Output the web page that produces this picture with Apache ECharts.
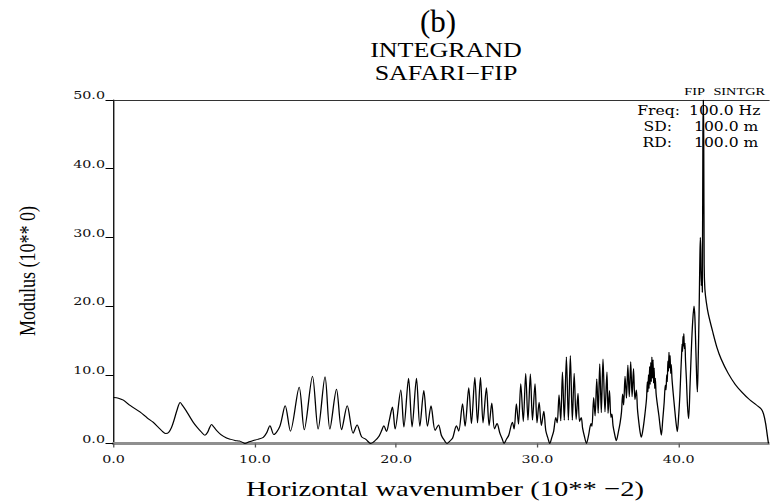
<!DOCTYPE html>
<html>
<head>
<meta charset="utf-8">
<script src="https://cdn.jsdelivr.net/npm/echarts@6/dist/echarts.min.js"></script>
<style>
  html, body { margin: 0; padding: 0; background: #fff; overflow: hidden; }
  #wrap { width: 770px; height: 501px; overflow: hidden; }
  /* the plot is laid out narrow and stretched sideways, like the wide plotter lettering */
  #chart { width: 592.3px; height: 501px; transform: scaleX(1.3); transform-origin: 0 0; }
</style>
</head>
<body>
<div id="wrap"><div id="chart"></div></div>
<script>
// Horizontal wavenumber (10** -2)
const wavenumber = [
  0, 0.35, 0.7, 1.2, 1.87, 2.4, 2.8, 3.2, 3.5, 3.7, 3.9, 4.1, 4.3, 4.5, 4.72, 4.9, 5.13, 5.4, 5.64, 5.9,
  6.2, 6.47, 6.65, 6.8, 6.94, 7.1, 7.3, 7.6, 8.0, 8.3, 8.6, 8.9, 9.1, 9.3,
  9.6, 9.9, 10.2, 10.6, 10.85, 11.07, 11.35, 11.77, 12.15, 12.52, 13.14, 13.5, 14.08, 14.48, 14.97, 15.31,
  15.78, 16.14, 16.54, 16.96, 17.24, 17.55, 17.86, 18.2,
  18.5, 18.8, 19.0, 19.13, 19.32, 19.5, 19.74, 19.93, 20.33, 20.55, 20.88, 21.13, 21.44, 21.68, 21.96, 22.22,
  22.47, 22.76, 23.0, 23.2, 23.4, 23.6,
  23.8, 24.0, 24.27, 24.43, 24.7, 24.88, 25.14, 25.33, 25.57, 25.76, 25.97, 26.15, 26.39, 26.58, 26.77, 26.96,
  27.14, 27.33, 27.5, 27.64,
  27.8, 27.97, 28.23, 28.35, 28.51, 28.66, 28.82, 29.0, 29.17, 29.33, 29.5, 29.65, 29.83, 29.97, 30.12, 30.28,
  30.45, 30.59, 30.74, 30.87,
  31.02, 31.15, 31.3, 31.4, 31.53, 31.65, 31.77, 31.9, 32.05, 32.19, 32.33, 32.47, 32.6, 32.74, 32.87, 32.98,
  33.1, 33.2, 33.33, 33.47,
  33.62, 33.72, 33.8, 33.86, 33.98, 34.08, 34.2, 34.3, 34.41, 34.52, 34.64, 34.78, 34.92, 35.0, 35.1, 35.2,
  35.27, 35.35, 35.47, 35.58,
  35.72, 35.85, 35.95, 36.03, 36.1, 36.2, 36.3, 36.4, 36.5, 36.6, 36.7, 36.8, 36.9, 37.0, 37.08, 37.18,
  37.27, 37.35,
  37.5, 37.62, 37.72, 37.78, 37.82, 37.86, 37.9, 37.94, 37.98, 38.02, 38.06, 38.1, 38.14, 38.18, 38.22, 38.26,
  38.3, 38.34, 38.4, 38.5, 38.6, 38.68, 38.77,
  38.87, 38.97, 39.05, 39.1, 39.15, 39.19, 39.23, 39.27, 39.31, 39.35, 39.39, 39.43, 39.47, 39.52, 39.6, 39.7,
  39.8, 39.9,
  40.0, 40.08, 40.15, 40.2, 40.24, 40.27, 40.3, 40.33, 40.36, 40.4, 40.44, 40.48, 40.54, 40.62, 40.7,
  40.8, 40.9, 40.98, 41.08, 41.14, 41.2, 41.27, 41.32, 41.38, 41.44, 41.5, 41.53, 41.56, 41.6, 41.64, 41.67,
  41.71, 41.74, 41.77, 41.8, 41.85, 41.95, 42.1, 42.4, 42.7, 43.0, 43.5, 44.0, 44.5, 45.0, 45.5, 45.85,
  46.0, 46.15, 46.28, 46.35
];

// Modulus (10** 0)
const modulus = [
  6.7, 6.6, 6.3, 5.5, 4.6, 3.7, 3.1, 2.3, 1.7, 1.45, 1.6, 2.3, 3.5, 4.9, 5.95, 5.5, 4.8, 3.9, 3.1, 2.4,
  1.7, 1.2, 1.6, 2.3, 2.75, 2.4, 1.9, 1.3, 0.8, 0.6, 0.45, 0.35, 0.2, 0.0,
  0.25, 0.45, 0.6, 0.9, 1.6, 2.6, 1.3, 2.5, 5.5, 1.8, 8.2, 2.0, 9.8, 2.1, 9.7, 2.1,
  7.9, 2.0, 5.5, 1.5, 2.7, 1.0, 0.6, 0.0,
  0.4, 1.1, 2.0, 2.6, 1.75, 3.2, 5.3, 2.1, 7.8, 2.4, 9.5, 2.4, 9.5, 2.5, 7.7, 2.5,
  5.5, 1.9, 2.7, 1.2, 0.5, 0.0,
  0.35, 0.8, 2.6, 1.8, 5.8, 2.5, 8.1, 2.9, 9.6, 3.0, 9.6, 3.0, 8.1, 2.6, 5.9, 2.1,
  2.9, 1.6, 0.7, 0.0,
  0.6, 1.2, 3.1, 2.1, 5.8, 2.8, 8.7, 3.2, 10.2, 3.4, 10.1, 3.4, 8.7, 3.0, 6.0, 2.6,
  4.7, 1.9, 0.8, 0.0,
  0.9, 1.8, 3.8, 3.0, 7.1, 3.3, 10.4, 3.4, 12.6, 3.4, 12.8, 3.4, 10.2, 3.5, 7.3, 3.2,
  3.8, 2.2, 1.0, 0.0,
  1.2, 2.4, 2.9, 2.5, 6.7, 4.0, 9.4, 4.4, 11.6, 4.5, 12.3, 4.6, 10.4, 4.4, 7.7, 3.8,
  4.3, 2.6, 1.3, 0.4,
  1.6, 3.0, 4.6, 7.2, 5.6, 9.8, 6.6, 11.4, 6.8, 11.9, 6.8, 10.9, 6.4, 7.8, 5.0, 3.0,
  1.6, 0.9,
  2.5, 4.5, 6.5, 9.0, 7.5, 10.0, 8.0, 11.2, 8.6, 11.8, 9.0, 12.6, 9.5, 12.2, 8.8, 11.0,
  8.0, 9.5, 7.2, 5.5, 4.0, 2.5, 1.2,
  3.5, 6.0, 8.5, 7.8, 10.0, 9.0, 12.0, 10.5, 13.3, 11.0, 12.8, 10.2, 11.5, 9.5, 7.5, 5.3,
  3.2, 1.7,
  4.2, 7.0, 10.5, 12.8, 14.5, 13.4, 15.6, 14.2, 16.0, 13.8, 14.6, 12.0, 9.5, 5.5, 3.6,
  8.5, 14.0, 17.5, 20.0, 18.5, 14.5, 9.5, 7.5, 12.5, 19.0, 27.5, 30.0, 28.0, 23.0, 25.0, 22.0,
  45.0, 50.0, 44.0, 26.0, 22.5, 20.6, 18.8, 16.3, 14.0, 12.3, 10.2, 8.6, 7.4, 6.4, 5.6, 5.0,
  4.3, 2.9, 1.0, 0.0
];

const xTicks = [0, 10, 20, 30, 40];
const xMax = 46.43;
const yMax = 50;
const yStep = 10;

const SX = 1.3;                       // sideways stretch of the drawing
const sx = v => v / SX;               // page x -> drawing x

const labelFont = 'DejaVu Serif';
const titleFont = 'Liberation Serif';

const chart = echarts.init(document.getElementById('chart'), null, { renderer: 'svg' });

chart.setOption({
  animation: false,
  backgroundColor: '#fff',
  grid: { left: sx(113.5), right: 0, top: 100, bottom: 57.5, containLabel: false },
  xAxis: [
    {
      type: 'value', min: 0, max: xMax, interval: 10, position: 'bottom',
      axisLine: { show: true, onZero: false, lineStyle: { color: '#8f8f8f', width: 3 } },
      axisTick: { show: true, customValues: xTicks, length: 4, lineStyle: { color: '#555', width: 1 } },
      axisLabel: {
        customValues: xTicks,
        formatter: v => (xTicks.indexOf(v) >= 0 ? v.toFixed(1) : ''),
        fontFamily: labelFont, fontSize: 11, color: '#111', margin: 10,
        hideOverlap: false
      },
      splitLine: { show: false }
    },
    {
      type: 'value', min: 0, max: xMax, position: 'top',
      axisLine: { show: true, onZero: false, lineStyle: { color: '#333', width: 1 } },
      axisTick: { show: false }, axisLabel: { show: false }, splitLine: { show: false }
    }
  ],
  yAxis: {
    type: 'value', min: 0, max: yMax, interval: yStep,
    axisLine: { show: true, onZero: false, lineStyle: { color: '#000', width: 1 } },
    axisTick: { show: true, length: sx(8), lineStyle: { color: '#000', width: 1 } },
    axisLabel: {
      formatter: v => v.toFixed(1),
      fontFamily: labelFont, fontSize: 11, color: '#111',
      margin: sx(8.5), verticalAlign: 'bottom', lineHeight: 9
    },
    splitLine: { show: false }
  },
  series: [{
    type: 'line',
    xAxisIndex: 0,
    data: wavenumber.map((k, i) => [k, modulus[i]]),
    symbol: 'none',
    smooth: 0.3,
    lineStyle: { color: '#000', width: 1 },
    z: 3
  }],
  graphic: [
    { type: 'text', x: sx(438), y: 21, scaleX: 1 / SX, z: 10,
      style: { text: '(b)', fontFamily: titleFont, fontSize: 31, fill: '#000', align: 'center', verticalAlign: 'middle' } },
    { type: 'text', x: sx(446), y: 50, z: 10,
      style: { text: 'INTEGRAND', fontFamily: titleFont, fontSize: 20, fill: '#000', align: 'center', verticalAlign: 'middle' } },
    { type: 'text', x: sx(446), y: 73, z: 10,
      style: { text: 'SAFARI\u2212FIP', fontFamily: titleFont, fontSize: 20, fill: '#000', align: 'center', verticalAlign: 'middle' } },
    { type: 'text', x: sx(705), y: 92, z: 10,
      style: { text: 'FIP', fontFamily: titleFont, fontSize: 11, fill: '#000', align: 'right', verticalAlign: 'middle' } },
    { type: 'text', x: sx(765), y: 92, z: 10,
      style: { text: 'SINTGR', fontFamily: titleFont, fontSize: 11, fill: '#000', align: 'right', verticalAlign: 'middle' } },
    { type: 'text', x: sx(680), y: 111, z: 10,
      style: { text: 'Freq:', fontFamily: labelFont, fontSize: 12, fill: '#000', align: 'right', verticalAlign: 'middle' } },
    { type: 'text', x: sx(689), y: 111, z: 10,
      style: { text: '100.0 Hz', fontFamily: labelFont, fontSize: 12, fill: '#000', align: 'left', verticalAlign: 'middle' } },
    { type: 'text', x: sx(672), y: 127, z: 10,
      style: { text: 'SD:', fontFamily: labelFont, fontSize: 12, fill: '#000', align: 'right', verticalAlign: 'middle' } },
    { type: 'text', x: sx(694), y: 127, z: 10,
      style: { text: '100.0 m', fontFamily: labelFont, fontSize: 12, fill: '#000', align: 'left', verticalAlign: 'middle' } },
    { type: 'text', x: sx(672), y: 143, z: 10,
      style: { text: 'RD:', fontFamily: labelFont, fontSize: 12, fill: '#000', align: 'right', verticalAlign: 'middle' } },
    { type: 'text', x: sx(694), y: 143, z: 10,
      style: { text: '100.0 m', fontFamily: labelFont, fontSize: 12, fill: '#000', align: 'left', verticalAlign: 'middle' } },
    { type: 'text', x: sx(445), y: 489, z: 10,
      style: { text: 'Horizontal wavenumber (10** \u22122)', fontFamily: titleFont, fontSize: 22, fill: '#000', align: 'center', verticalAlign: 'middle' } },
    { type: 'text', x: sx(27), y: 271, rotation: Math.PI / 2, z: 10,
      style: { text: 'Modulus (10** 0)', fontFamily: titleFont, fontSize: 18, fill: '#000', align: 'center', verticalAlign: 'middle' } }
  ]
});
</script>
</body>
</html>
